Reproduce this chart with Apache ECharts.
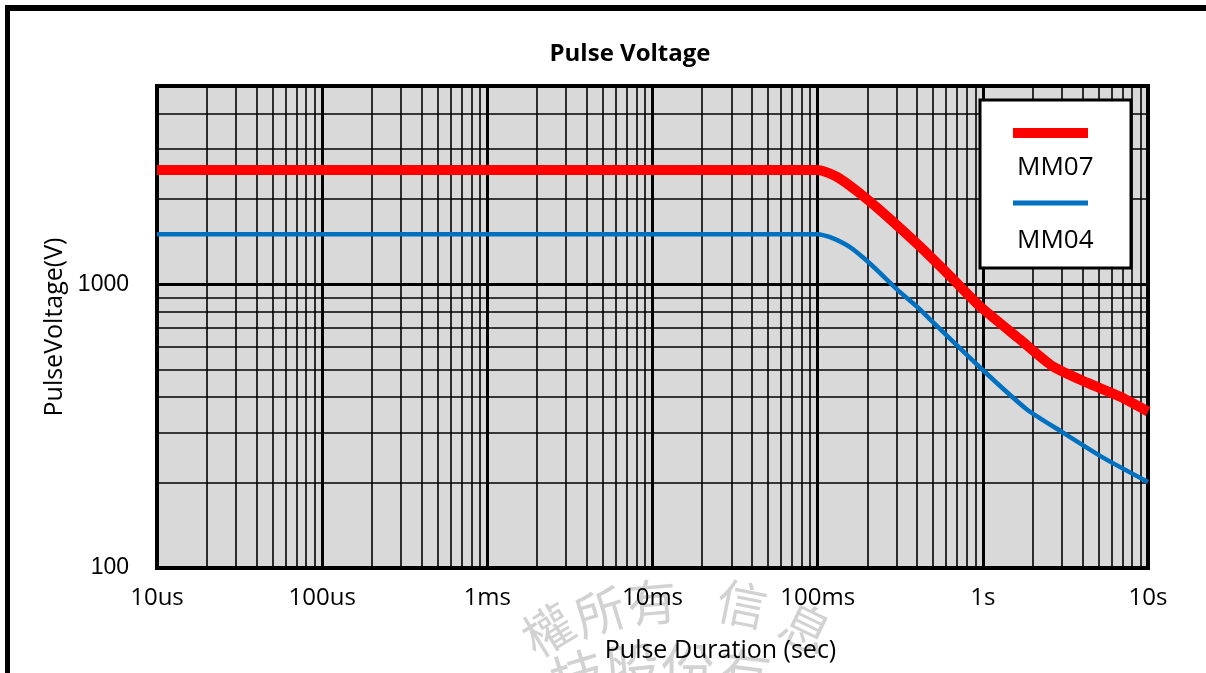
<!DOCTYPE html>
<html>
<head>
<meta charset="utf-8">
<script src="https://cdn.jsdelivr.net/npm/echarts@6/dist/echarts.min.js"></script>
<style>
  html, body { margin: 0; padding: 0; background: #fff; }
  #main { width: 1206px; height: 673px; }
</style>
</head>
<body>
<div id="main"></div>
<script>
// values (time in seconds, voltage in V)
const mm07Time = [1e-5, 0.1, 0.131, 0.188, 0.274, 0.416, 0.632, 0.962, 1.68, 2.66, 4.27, 6.76, 10];
const mm07Volt = [2530, 2530, 2390, 2050, 1700, 1360, 1070, 836, 639, 513, 450, 402, 356];
const mm04Time = [1e-5, 0.1, 0.119, 0.157, 0.216, 0.302, 0.416, 0.479, 0.962, 1.85, 3.06, 5.34, 10];
const mm04Volt = [1500, 1500, 1466, 1351, 1158, 960, 816, 752, 509, 362, 300, 245, 201];

const xTickLabels = ['10us', '100us', '1ms', '10ms', '100ms', '1s', '10s'];
const yTickLabels = [100, 1000];

// minor gridlines of the log paper (2..9 inside each decade)
const xMinor = [];
for (let d = -5; d <= 0; d++) {
  for (let k = 2; k <= 9; k++) xMinor.push(k * Math.pow(10, d));
}
const yMinor = [200, 300, 400, 500, 600, 700, 800, 900, 2000, 3000, 4000];
const xMin = 1e-5, xMax = 10, yMin = 100, yMax = 5000;

const pairs = (xs, ys) => xs.map((x, i) => [x, ys[i]]);

const chart = echarts.init(document.getElementById('main'));

const cjk = (text, x, y, rot, size) => ({
  type: 'text', x: x, y: y, rotation: rot, z: 0, silent: true,
  style: { text: text, fill: '#d2d2d2', fontSize: size, fontFamily: 'Noto Sans CJK TC', align: 'center', verticalAlign: 'middle' }
});

const option = {
  backgroundColor: '#fff',
  animation: false,
  title: {
    text: 'Pulse Voltage',
    left: 630,
    top: 42,
    padding: 0,
    textAlign: 'center',
    textStyle: { fontFamily: 'Open Sans', fontWeight: 'bold', fontSize: 24, color: '#000' }
  },
  legend: [
    {
      // box + line samples
      data: [
        { name: 'MM07', lineStyle: { width: 10 } },
        { name: 'MM04', lineStyle: { width: 5 } }
      ],
      orient: 'vertical',
      left: 980,
      top: 100,
      padding: [28, 38, 61, 28],
      itemWidth: 75,
      itemHeight: 10,
      itemGap: 60,
      formatter: () => '',
      backgroundColor: '#fff',
      borderColor: '#000',
      borderWidth: 3,
      itemStyle: { opacity: 0 },
      selectedMode: false,
      z: 10
    },
    {
      // names under each sample
      data: ['MM07', 'MM04'],
      orient: 'vertical',
      left: 1012,
      top: 155,
      padding: 0,
      icon: 'rect',
      itemWidth: 0,
      itemHeight: 0,
      itemGap: 47,
      textStyle: { fontFamily: 'Open Sans', fontSize: 26, color: '#000', lineHeight: 26 },
      selectedMode: false,
      z: 11
    }
  ],
  grid: {
    left: 157,
    right: 58,
    top: 86,
    bottom: 105,
    show: true,
    backgroundColor: '#d9d9d9',
    borderColor: '#000',
    borderWidth: 4
  },
  xAxis: {
    type: 'log',
    logBase: 10,
    min: xMin,
    max: xMax,
    name: 'Pulse Duration (sec)',
    nameLocation: 'middle',
    nameGap: 70,
    nameTextStyle: { fontFamily: 'Open Sans', fontSize: 25, color: '#000', padding: [0, 0, 0, 136] },
    axisLine: { show: true, lineStyle: { color: '#000', width: 4 } },
    axisTick: { show: false },
    axisLabel: {
      margin: 18,
      fontFamily: 'Open Sans',
      fontSize: 24,
      color: '#000',
      formatter: (v) => xTickLabels[Math.round(Math.log10(v)) + 5]
    },
    splitLine: { show: true, lineStyle: { color: '#000', width: 3 } }
  },
  yAxis: {
    type: 'log',
    logBase: 10,
    min: yMin,
    max: yMax,
    name: 'PulseVoltage(V)',
    nameLocation: 'middle',
    nameGap: 90,
    nameTextStyle: { fontFamily: 'Open Sans', fontSize: 25, color: '#000' },
    axisLine: { show: true, lineStyle: { color: '#000', width: 4 } },
    axisTick: { show: false },
    axisLabel: {
      margin: 28,
      fontFamily: 'Liberation Sans',
      fontSize: 23,
      color: '#000',
      showMaxLabel: false,
      formatter: (v) => (yTickLabels.indexOf(Math.round(v)) >= 0 ? String(Math.round(v)) : '')
    },
    splitLine: { show: true, lineStyle: { color: '#000', width: 3 } }
  },
  series: [
    {
      name: 'minor grid',
      type: 'lines',
      coordinateSystem: 'cartesian2d',
      silent: true,
      z: 1,
      lineStyle: { color: '#000', width: 1.6, opacity: 1 },
      data: xMinor.map((v) => ({ coords: [[v, yMin], [v, yMax]] }))
        .concat(yMinor.map((v) => ({ coords: [[xMin, v], [xMax, v]] })))
    },
    {
      name: 'MM07',
      type: 'line',
      data: pairs(mm07Time, mm07Volt),
      symbol: 'none',
      smooth: 0.2,
      z: 5,
      itemStyle: { color: '#ff0000' },
      lineStyle: { color: '#ff0000', width: 10 }
    },
    {
      name: 'MM04',
      type: 'line',
      data: pairs(mm04Time, mm04Volt),
      symbol: 'none',
      smooth: 0.2,
      z: 6,
      itemStyle: { color: '#0070c0' },
      lineStyle: { color: '#0070c0', width: 4.5 }
    }
  ],
  graphic: [
    // outer frame of the picture
    { type: 'line', shape: { x1: 7.5, y1: 5, x2: 7.5, y2: 673 }, style: { stroke: '#000', lineWidth: 5 }, z: 20 },
    { type: 'line', shape: { x1: 5, y1: 8, x2: 1206, y2: 8 }, style: { stroke: '#000', lineWidth: 6 }, z: 20 },
    // faint seal watermark
    cjk('權', 548, 630, 0.55, 50),
    cjk('所', 600, 612, 0.3, 50),
    cjk('有', 652, 602, 0.08, 50),
    cjk('信', 742, 604, -0.2, 50),
    cjk('息', 806, 628, -0.45, 50),
    cjk('技', 578, 676, 0.3, 54),
    cjk('股', 632, 668, 0.1, 54),
    cjk('份', 688, 668, 0, 54),
    cjk('有', 744, 674, -0.12, 54)
  ]
};

chart.setOption(option);
</script>
</body>
</html>
